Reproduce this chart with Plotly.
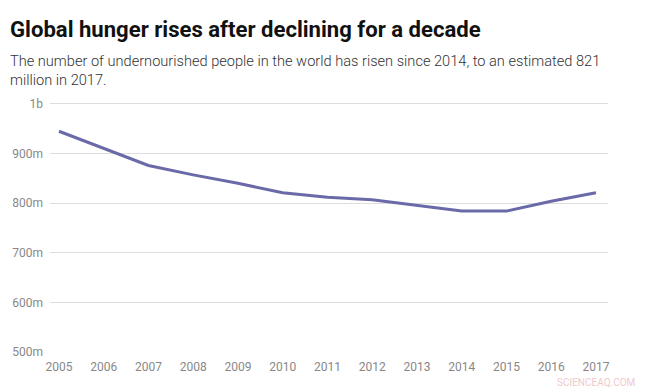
import plotly.graph_objects as go

years = list(range(2005, 2018))
undernourished_m = [945, 911, 876, 857, 840, 821, 812, 807, 796, 784, 784, 804, 821]
ytick_vals = [500, 600, 700, 800, 900, 1000]
ytick_text = ["500m", "600m", "700m", "800m", "900m", "1b"]
title_text = "Global hunger rises after declining for a decade"
subtitle_text = ("The number of undernourished people in the world has risen since 2014, to an estimated 821<br>"
                 "million in 2017.")

fig = go.Figure()
fig.add_trace(go.Scatter(
    x=years, y=undernourished_m, mode="lines",
    line=dict(color="#6b6aa8", width=3),
    hoverinfo="x+y", showlegend=False,
))

T = 99
plot_w = 650 - 46 - 42
fig.update_layout(
    width=650, height=392,
    margin=dict(l=46, r=42, t=T, b=40),
    paper_bgcolor="white", plot_bgcolor="white",
    font=dict(family="Roboto", color="#888888", size=12),
    xaxis=dict(
        range=[2004.8, 2017.27], tickvals=years, ticktext=[str(y) for y in years],
        showgrid=False, zeroline=False, showline=False, ticks="",
        tickfont=dict(size=12, color="#888888"), ticklabelstandoff=6,
    ),
    yaxis=dict(
        range=[500, 1010], tickvals=ytick_vals, ticktext=ytick_text,
        showgrid=True, gridcolor="#dddddd", gridwidth=1, zeroline=False,
        showline=False, ticks="", tickfont=dict(size=12, color="#888888"),
        ticklabelstandoff=6,
    ),
    annotations=[
        dict(text=title_text, xref="paper", yref="paper", x=-42/plot_w, y=1,
             xanchor="left", yanchor="top", showarrow=False,
             yshift=T - 14,
             font=dict(family="Roboto", size=22.1, color="#111111", weight="bold")),
        dict(text=subtitle_text, xref="paper", yref="paper", x=-42/plot_w, y=1,
             xanchor="left", yanchor="top", showarrow=False, align="left",
             yshift=T - 50,
             font=dict(family="Roboto", size=14.6, color="#333333", weight=300)),
        dict(text="SCIENCEAQ.COM", xref="paper", yref="paper", x=(637 - 46)/plot_w, y=0,
             xanchor="right", yanchor="middle", showarrow=False,
             yshift=-30,
             font=dict(family="Roboto", size=10, color="#f0c8cc")),
    ],
)

fig.write_html("out.html", config={"displayModeBar": False},
               post_script="document.body.style.margin='0';document.body.style.overflow='hidden';")
